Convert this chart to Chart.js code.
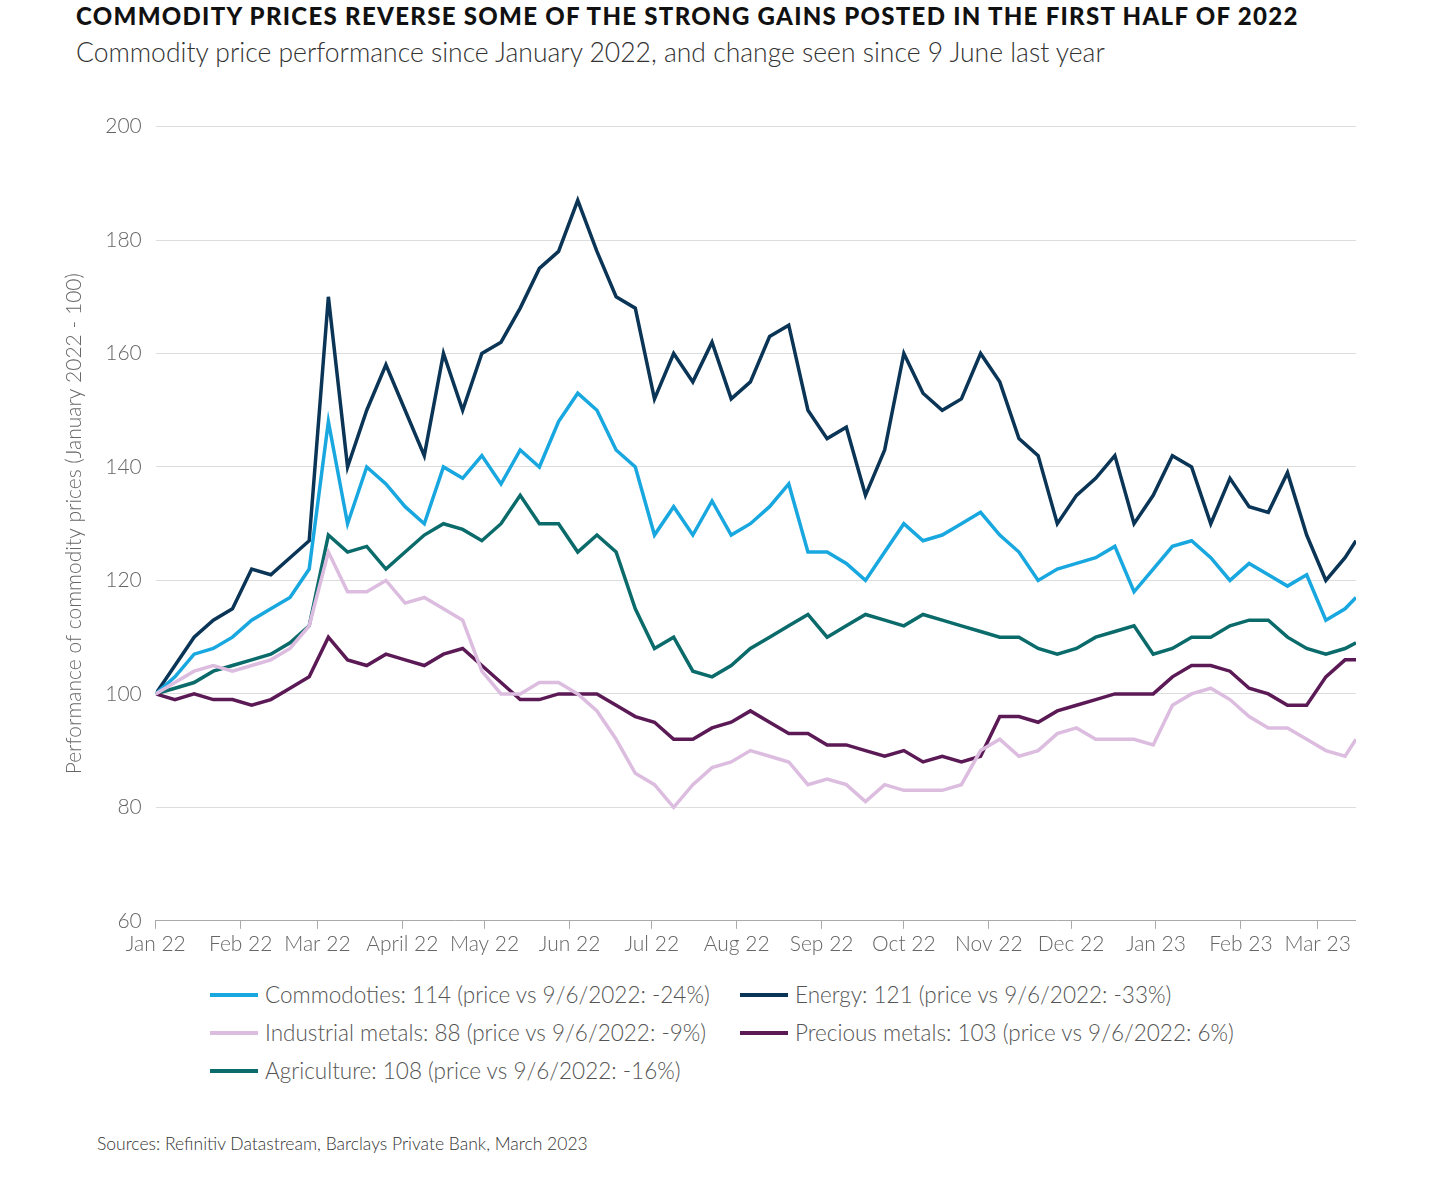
<!DOCTYPE html>
<html>
<head>
<meta charset="utf-8">
<script src="https://cdn.jsdelivr.net/npm/chart.js@4"></script>
<style>
  body { margin: 0; background: #fff; font-family: Lato, "Open Sans", sans-serif; width: 1440px; height: 1177px; position: relative; overflow: hidden; }
  #titulo { position: absolute; left: 76px; top: 1px; font-size: 24px; font-weight: 900; letter-spacing: 1.3px; color: #111; white-space: nowrap; }
  #sub { position: absolute; left: 76px; top: 36px; font-size: 26.5px; font-weight: 300; color: #333; white-space: nowrap; }
  #caixa { position: absolute; left: 58px; top: 100px; width: 1298px; height: 860px; }
  #legenda { position: absolute; left: 210px; top: 981px; font-size: 22.5px; color: #555; font-weight: 300; }
  .item { position: absolute; white-space: nowrap; display: flex; align-items: center; }
  .item i { display: inline-block; width: 48px; height: 4px; margin-right: 7px; }
  #fonte { position: absolute; left: 97px; top: 1133px; font-size: 17.5px; font-weight: 300; color: #333; }
</style>
</head>
<body>
<div id="titulo">COMMODITY PRICES REVERSE SOME OF THE STRONG GAINS POSTED IN THE FIRST HALF OF 2022</div>
<div id="sub">Commodity price performance since January 2022, and change seen since 9 June last year</div>
<div id="caixa"><canvas id="grafico"></canvas></div>
<div id="legenda"></div>
<div id="fonte">Sources: Refinitiv Datastream, Barclays Private Bank, March 2023</div>
<script>
// dias desde 1 Jan 2022 (semanal) + ultimo ponto
const dias = [];
for (let d = 0; d <= 434; d += 7) dias.push(d);
dias.push(438);

const rotulosMes = ['Jan 22','Feb 22','Mar 22','April 22','May 22','Jun 22','Jul 22','Aug 22','Sep 22','Oct 22','Nov 22','Dec 22','Jan 23','Feb 23','Mar 23'];
const inicioMes = [0,31,59,90,120,151,181,212,243,273,304,334,365,396,424];

const commodities = [100,103,107,108,110,113,115,117,122,148,130,140,137,133,130,140,138,142,137,143,140,148,153,150,143,140,128,133,128,134,128,130,133,137,125,125,123,120,125,130,127,128,130,132,128,125,120,122,123,124,126,118,122,126,127,124,120,123,121,119,121,113,115,117];
const energy = [100,105,110,113,115,122,121,124,127,170,140,150,158,150,142,160,150,160,162,168,175,178,187,178,170,168,152,160,155,162,152,155,163,165,150,145,147,135,143,160,153,150,152,160,155,145,142,130,135,138,142,130,135,142,140,130,138,133,132,139,128,120,124,127];
const industrial = [100,102,104,105,104,105,106,108,112,125,118,118,120,116,117,115,113,104,100,100,102,102,100,97,92,86,84,80,84,87,88,90,89,88,84,85,84,81,84,83,83,83,84,90,92,89,90,93,94,92,92,92,91,98,100,101,99,96,94,94,92,90,89,92];
const precious = [100,99,100,99,99,98,99,101,103,110,106,105,107,106,105,107,108,105,102,99,99,100,100,100,98,96,95,92,92,94,95,97,95,93,93,91,91,90,89,90,88,89,88,89,96,96,95,97,98,99,100,100,100,103,105,105,104,101,100,98,98,103,106,106];
const agriculture = [100,101,102,104,105,106,107,109,112,128,125,126,122,125,128,130,129,127,130,135,130,130,125,128,125,115,108,110,104,103,105,108,110,112,114,110,112,114,113,112,114,113,112,111,110,110,108,107,108,110,111,112,107,108,110,110,112,113,113,110,108,107,108,109];

const series = [
  { nome: 'Commodoties: 114 (price vs 9/6/2022: -24%)', valores: commodities, cor: '#19a7e0', x: 0, y: 0 },
  { nome: 'Energy: 121 (price vs 9/6/2022: -33%)', valores: energy, cor: '#0b3556', x: 530, y: 0 },
  { nome: 'Industrial metals: 88 (price vs 9/6/2022: -9%)', valores: industrial, cor: '#dcbde0', x: 0, y: 38 },
  { nome: 'Precious metals: 103 (price vs 9/6/2022: 6%)', valores: precious, cor: '#5b1a55', x: 530, y: 38 },
  { nome: 'Agriculture: 108 (price vs 9/6/2022: -16%)', valores: agriculture, cor: '#0b6b6b', x: 0, y: 76 }
];
// ordem de desenho: industrial e precious por baixo
const ordem = [2, 3, 4, 0, 1];

const legenda = document.getElementById('legenda');
series.forEach(s => {
  const el = document.createElement('div');
  el.className = 'item';
  el.style.left = s.x + 'px';
  el.style.top = s.y + 'px';
  el.innerHTML = `<i style="background:${s.cor}"></i>${s.nome}`;
  legenda.appendChild(el);
});

new Chart(document.getElementById('grafico'), {
  type: 'line',
  data: {
    datasets: ordem.map(i => ({
      label: series[i].nome,
      data: series[i].valores.map((v, k) => ({ x: dias[k], y: v })),
      borderColor: series[i].cor,
      borderWidth: 3.5,
      pointRadius: 0,
      tension: 0
    }))
  },
  options: {
    responsive: true,
    maintainAspectRatio: false,
    animation: false,
    layout: { padding: { right: 0 } },
    plugins: { legend: { display: false }, tooltip: { enabled: false } },
    scales: {
      x: {
        type: 'linear', min: 0, max: 438,
        afterBuildTicks: ax => { ax.ticks = inicioMes.map(v => ({ value: v })); },
        ticks: {
          autoSkip: false, maxRotation: 0,
          color: '#666', font: { family: 'Lato', size: 21, weight: 300 },
          callback: v => rotulosMes[inicioMes.indexOf(v)]
        },
        grid: { display: true, drawOnChartArea: false, drawTicks: true, tickLength: 8, color: '#aaa' },
        border: { color: '#aaa' }
      },
      y: {
        min: 60, max: 200,
        ticks: { stepSize: 20, color: '#666', padding: 14, font: { family: 'Lato', size: 21, weight: 300 } },
        grid: { color: '#ddd', drawTicks: false },
        border: { display: false },
        title: { display: true, text: 'Performance of commodity prices (January 2022 - 100)', color: '#666', font: { family: 'Lato', size: 21, weight: 300 } }
      }
    }
  }
});
</script>
</body>
</html>
